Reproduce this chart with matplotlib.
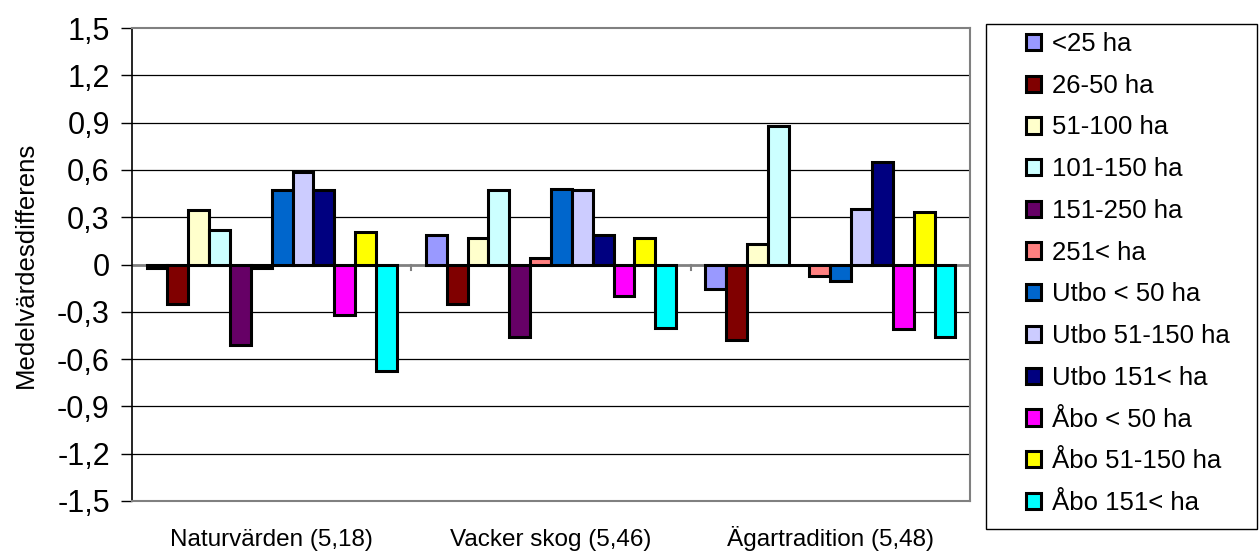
import matplotlib
matplotlib.use("Agg")
import matplotlib.pyplot as plt
import numpy as np
from matplotlib.patches import Rectangle

plt.rcParams['font.family'] = ['Liberation Sans', 'DejaVu Sans']

categories = ["Naturvärden (5,18)", "Vacker skog (5,46)", "Ägartradition (5,48)"]
series_names = ["<25 ha", "26-50 ha", "51-100 ha", "101-150 ha", "151-250 ha", "251< ha",
                "Utbo < 50 ha", "Utbo 51-150 ha", "Utbo 151< ha",
                "Åbo < 50 ha", "Åbo 51-150 ha", "Åbo 151< ha"]
colors = ["#9999FF", "#800000", "#FFFFCC", "#CCFFFF", "#660066", "#FF8080",
          "#0066CC", "#CCCCFF", "#000080", "#FF00FF", "#FFFF00", "#00FFFF"]

lt25      = [-0.02, 0.19, -0.155]
h26_50    = [-0.25, -0.25, -0.48]
h51_100   = [0.345, 0.167, 0.127]
h101_150  = [0.22, 0.47, 0.88]
h151_250  = [-0.51, -0.46, 0.0]
h251      = [-0.02, 0.04, -0.075]
utbo_50   = [0.47, 0.48, -0.105]
utbo_150  = [0.585, 0.47, 0.35]
utbo_151  = [0.47, 0.19, 0.65]
abo_50    = [-0.32, -0.20, -0.41]
abo_150   = [0.205, 0.167, 0.33]
abo_151   = [-0.675, -0.405, -0.46]
series = [lt25, h26_50, h51_100, h101_150, h151_250, h251,
          utbo_50, utbo_150, utbo_151, abo_50, abo_150, abo_151]

yticks = [-1.5, -1.2, -0.9, -0.6, -0.3, 0, 0.3, 0.6, 0.9, 1.2, 1.5]
ytick_labels = ["-1,5", "-1,2", "-0,9", "-0,6", "-0,3", "0", "0,3", "0,6", "0,9", "1,2", "1,5"]

W, H = 1259, 552
fig = plt.figure(figsize=(W / 100, H / 100), dpi=100)
ax = fig.add_axes([132 / W, 1 - 501 / H, (970 - 132) / W, (501 - 28) / H])

x = np.arange(len(categories))
n = len(series)
bw = 0.0746
for i, (vals, name, c) in enumerate(zip(series, series_names, colors)):
    ax.bar(x + (i - (n - 1) / 2) * bw, vals, width=bw, color=c, edgecolor="black",
           linewidth=2.2, label=name, zorder=3)

ax.set_xlim(-0.5, len(categories) - 0.5)
ax.set_ylim(-1.5, 1.5)
ax.set_yticks(yticks)
ax.set_yticklabels(ytick_labels, fontsize=22)
for yv in yticks:
    if yv not in (0, -1.5, 1.5):
        ax.axhline(yv, color="black", linewidth=0.9, zorder=1)

# x-axis at zero
ax.axhline(0, color="#808080", linewidth=2, zorder=2)
for b in [0.5, 1.5]:
    ax.plot([b, b], [-0.035, 0.0], color="#808080", linewidth=1.5, zorder=2)

ax.set_xticks(x)
ax.set_xticklabels([])
ax.tick_params(axis="x", length=0)
for xi, cat in zip(x, categories):
    ax.text(xi, -0.0951, cat, transform=ax.get_xaxis_transform(), ha="center",
            va="baseline", fontsize=17.5)
ax.tick_params(axis="y", length=8, width=1, color="black", pad=8, direction="out")

for s in ["top", "right", "bottom"]:
    ax.spines[s].set_color("#808080")
    ax.spines[s].set_linewidth(1.5)
ax.spines["left"].set_color("black")
ax.spines["left"].set_linewidth(1.2)

fig.text(26 / W, 1 - 265 / H, "Medelvärdesdifferens", rotation=90, ha="center",
         va="center", fontsize=18.5)

# legend frame
fig.patches.append(Rectangle((986 / W, 1 - 529 / H), (1257 - 986) / W, (529 - 24) / H,
                             transform=fig.transFigure, fill=False, edgecolor="black",
                             linewidth=1.0))
leg = fig.legend(loc="upper left", bbox_to_anchor=(1026 / W, 1 - 32 / H), frameon=False,
                 fontsize=18.5, handlelength=0.6, handleheight=0.6, handletextpad=0.4,
                 labelspacing=0.69, borderpad=0, borderaxespad=0)

fig.savefig("out.png", dpi=100)
